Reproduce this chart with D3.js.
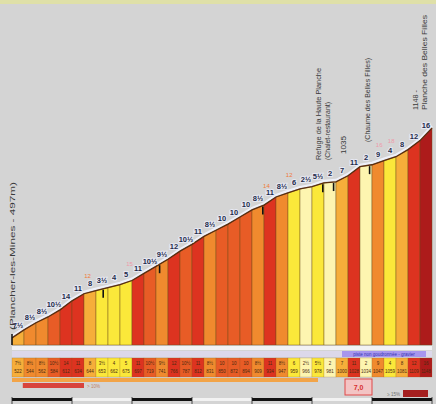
<!DOCTYPE html>
<html>
<head>
<meta charset="utf-8">
<script src="https://cdn.jsdelivr.net/npm/d3@7"></script>
<style>
  body { margin: 0; background: #d4d4d4; }
  svg { display: block; font-family: "Liberation Sans", Arial, sans-serif; }
  .grad { font-size: 7.5px; font-weight: bold; fill: #1f2b4a; paint-order: stroke; stroke: #e6e8f2; stroke-width: 2px; }
  .place { font-size: 6.5px; fill: #3a3a3a; }
  .cell { font-size: 4.5px; fill: #4a2a10; }
</style>
</head>
<body>
<script>
/**
 * Profile: Planche des Belles Filles from Plancher-les-Mines
 */
const W = 436, H = 404;
const BASE = 345;          // bottom of the profile bars

// Elevation (m) at every 200 m marker
const ELEV = [497, 522, 544, 562, 584, 612, 634, 644, 653, 662, 675, 697, 719, 741, 766, 787, 812, 831,
              850, 872, 894, 909, 934, 947, 959, 966, 978, 981, 1000, 1028, 1034, 1047, 1059, 1081, 1109, 1148];
// Gradient of each 200 m segment (%)
const GRAD = ["7½", "8½", "8½", "10½", "14", "11", "8", "3½", "4", "5", "11", "10½", "9½", "12", "10½", "11", "8½",
              "10", "10", "10", "8½", "11", "8½", "6", "2½", "5½", "2", "7", "11", "2", "9", "4", "8", "12", "16"];
const SEG = 0.2;           // km per segment
const TOTAL_KM = 7;
const KM_TICKS = [0, 1, 2, 3, 4, 5, 6, 7];

// Max gradient notes above the line
const MAX_AT  = [1.26, 1.96, 4.24, 4.62, 6.12, 6.32];
const MAX_TXT = ["12", "15", "14", "12", "16", "18"];
// Hairpins / junctions
const MARKS_KM = [1.52, 2.46, 4.18, 5.18, 5.36, 5.96];

// Places
const PLACES = [
  { km: 0,     lines: ["(Plancher-les-Mines - 497m)"], bottom: 330, len: [148] },
  { km: 5.175, lines: ["Refuge de la Haute Planche", "(Chalet-restaurant)"], bottom: 160, len: [92, 58] },
  { km: 5.53,  lines: ["1035"], bottom: 154, len: [18] },
  { km: 5.93,  lines: ["(Chaume des Belles Filles)"], bottom: 142, len: [84] },
  { km: 6.8,   lines: ["1148 -", "Planche des Belles Filles"], bottom: 110, len: [20, 95] }
];

const gradVal = s => parseFloat(s.replace("½", ".5"));

// Scales
const x = d3.scaleLinear().domain([0, TOTAL_KM]).range([12, 432]);
const y = d3.scaleLinear().domain([475, 1148]).range([BASE, 128]);
const color = d3.scaleThreshold()
  .domain([3, 6.5, 8.5, 10, 11, 15])
  .range(["#fdf5b0", "#fbe83a", "#f6ae3a", "#f08a2e", "#e85c26", "#dd3320", "#ad1b1b"]);
const kmOf = ELEV.map((e, i) => i * SEG);
const elevAt = d3.scaleLinear().domain(kmOf).range(ELEV);

const svg = d3.select("body").append("svg")
  .attr("width", W)
  .attr("height", H);

// header strip
svg.append("rect").attr("x", 0).attr("y", 0).attr("width", W).attr("height", 4).attr("fill", "#dfe0a8");

const segs = GRAD.map((g, i) => ({
  i, label: g, val: gradVal(g),
  k0: i * SEG, k1: (i + 1) * SEG,
  e0: ELEV[i], e1: ELEV[i + 1]
}));

// Bars
svg.append("g").selectAll("path")
  .data(segs)
  .join("path")
    .attr("d", d => `M${x(d.k0)},${BASE}L${x(d.k0)},${y(d.e0)}L${x(d.k1)},${y(d.e1)}L${x(d.k1)},${BASE}Z`)
    .attr("fill", d => color(d.val))
    .attr("stroke", "#6a4a18")
    .attr("stroke-opacity", 0.55)
    .attr("stroke-width", 0.8);

// Profile line with light edge
const line = d3.line().x((e, i) => x(i * SEG)).y(e => y(e));
svg.append("path").attr("d", line(ELEV)).attr("fill", "none")
  .attr("stroke", "#eef0fa").attr("stroke-width", 2).attr("transform", "translate(0,-2)");
svg.append("path").attr("d", line(ELEV)).attr("fill", "none")
  .attr("stroke", "#5a2e10").attr("stroke-width", 1.3);

// start tick
svg.append("line").attr("x1", x(0)).attr("x2", x(0)).attr("y1", y(ELEV[0]) - 4).attr("y2", BASE)
  .attr("stroke", "#111").attr("stroke-width", 1.5);

// hairpin marks
svg.append("g").selectAll("line")
  .data(MARKS_KM)
  .join("line")
    .attr("x1", d => x(d)).attr("x2", d => x(d))
    .attr("y1", d => y(elevAt(d)) + 1).attr("y2", d => y(elevAt(d)) + 9)
    .attr("stroke", "#111").attr("stroke-width", 1.6);

// Gradient labels
svg.append("g").selectAll("text")
  .data(segs)
  .join("text")
    .attr("class", "grad")
    .attr("x", d => x((d.k0 + d.k1) / 2))
    .attr("y", d => y((d.e0 + d.e1) / 2) - 6)
    .attr("text-anchor", "middle")
    .text(d => d.label);

// Max notes
svg.append("g").selectAll("text")
  .data(MAX_AT)
  .join("text")
    .attr("x", d => x(d))
    .attr("y", d => y(elevAt(d)) - 15)
    .attr("text-anchor", "middle")
    .attr("font-size", 6)
    .attr("fill", (d, i) => +MAX_TXT[i] >= 15 ? "#ee9aaa" : "#f07a3a")
    .text((d, i) => MAX_TXT[i]);

// Places (vertical text)
PLACES.forEach(p => {
  p.lines.forEach((t, j) => {
    const px = x(p.km) + (j - (p.lines.length - 1) / 2) * 9;
    svg.append("text")
      .attr("class", "place")
      .attr("transform", `translate(${px + 2.5},${p.bottom}) rotate(-90)`)
      .attr("textLength", p.len[j])
      .attr("lengthAdjust", "spacingAndGlyphs")
      .text(t);
  });
});

// ---- Bottom table ----
svg.append("rect").attr("x", x(0)).attr("y", BASE + 1).attr("width", x(TOTAL_KM) - x(0)).attr("height", 4).attr("fill", "#f2f2f4");
svg.append("rect").attr("x", x(0)).attr("y", 351).attr("width", x(TOTAL_KM) - x(0)).attr("height", 6).attr("fill", "#dcd8ea");
svg.append("rect").attr("x", x(5.5)).attr("y", 351).attr("width", x(6.9) - x(5.5)).attr("height", 6).attr("fill", "#a796ee");
svg.append("text").attr("x", x(6.2)).attr("y", 356).attr("text-anchor", "middle").attr("font-size", 4.5)
  .attr("fill", "#3434b0").text("piste non goudronnée - gravier");

const cells = svg.append("g").selectAll("g")
  .data(segs)
  .join("g")
    .attr("transform", d => `translate(${x(d.k0)},358)`);
cells.append("rect")
  .attr("width", x(SEG) - x(0))
  .attr("height", 19)
  .attr("fill", d => color(d.val))
  .attr("stroke", "#8a5a20")
  .attr("stroke-opacity", 0.35)
  .attr("stroke-width", 0.6);
cells.append("text").attr("class", "cell").attr("x", 6).attr("y", 7).attr("text-anchor", "middle")
  .text(d => d.label);
cells.append("text").attr("class", "cell").attr("x", 6).attr("y", 15).attr("text-anchor", "middle")
  .text(d => d.e1);

// road type band
svg.append("rect").attr("x", x(0)).attr("y", 378).attr("width", x(5.1) - x(0)).attr("height", 4).attr("fill", "#f2a448");
svg.append("rect").attr("x", x(0.18)).attr("y", 383).attr("width", x(1.2) - x(0.18)).attr("height", 5).attr("fill", "#d8443c");
svg.append("text").attr("x", x(1.25)).attr("y", 388).attr("font-size", 4.5).attr("fill", "#c08060").text("> 10%");

// summit box
svg.append("rect").attr("x", x(5.55)).attr("y", 379).attr("width", 27).attr("height", 16)
  .attr("fill", "#f3c4c4").attr("stroke", "#e04848").attr("stroke-width", 1);
svg.append("text").attr("x", x(5.55) + 13.5).attr("y", 390).attr("text-anchor", "middle")
  .attr("font-size", 7).attr("font-weight", "bold").attr("fill", "#d83030").text("7,0");

// legend dark bar
svg.append("rect").attr("x", 403).attr("y", 390).attr("width", 25).attr("height", 7).attr("fill", "#a52020");
svg.append("text").attr("x", 400).attr("y", 396).attr("text-anchor", "end").attr("font-size", 4.5)
  .attr("fill", "#707070").text("≥ 15%");

// km scale bar
const kmG = svg.append("g").attr("transform", "translate(0,398)");
kmG.selectAll("rect")
  .data(KM_TICKS.slice(0, -1))
  .join("rect")
    .attr("x", d => x(d))
    .attr("width", d => x(d + 1) - x(d))
    .attr("height", 3)
    .attr("fill", d => d % 2 === 0 ? "#111" : "#f2f2f2");
kmG.selectAll("line")
  .data(KM_TICKS)
  .join("line")
    .attr("x1", d => x(d)).attr("x2", d => x(d))
    .attr("y1", -1).attr("y2", 6)
    .attr("stroke", "#222").attr("stroke-width", 0.8);
</script>
</body>
</html>
